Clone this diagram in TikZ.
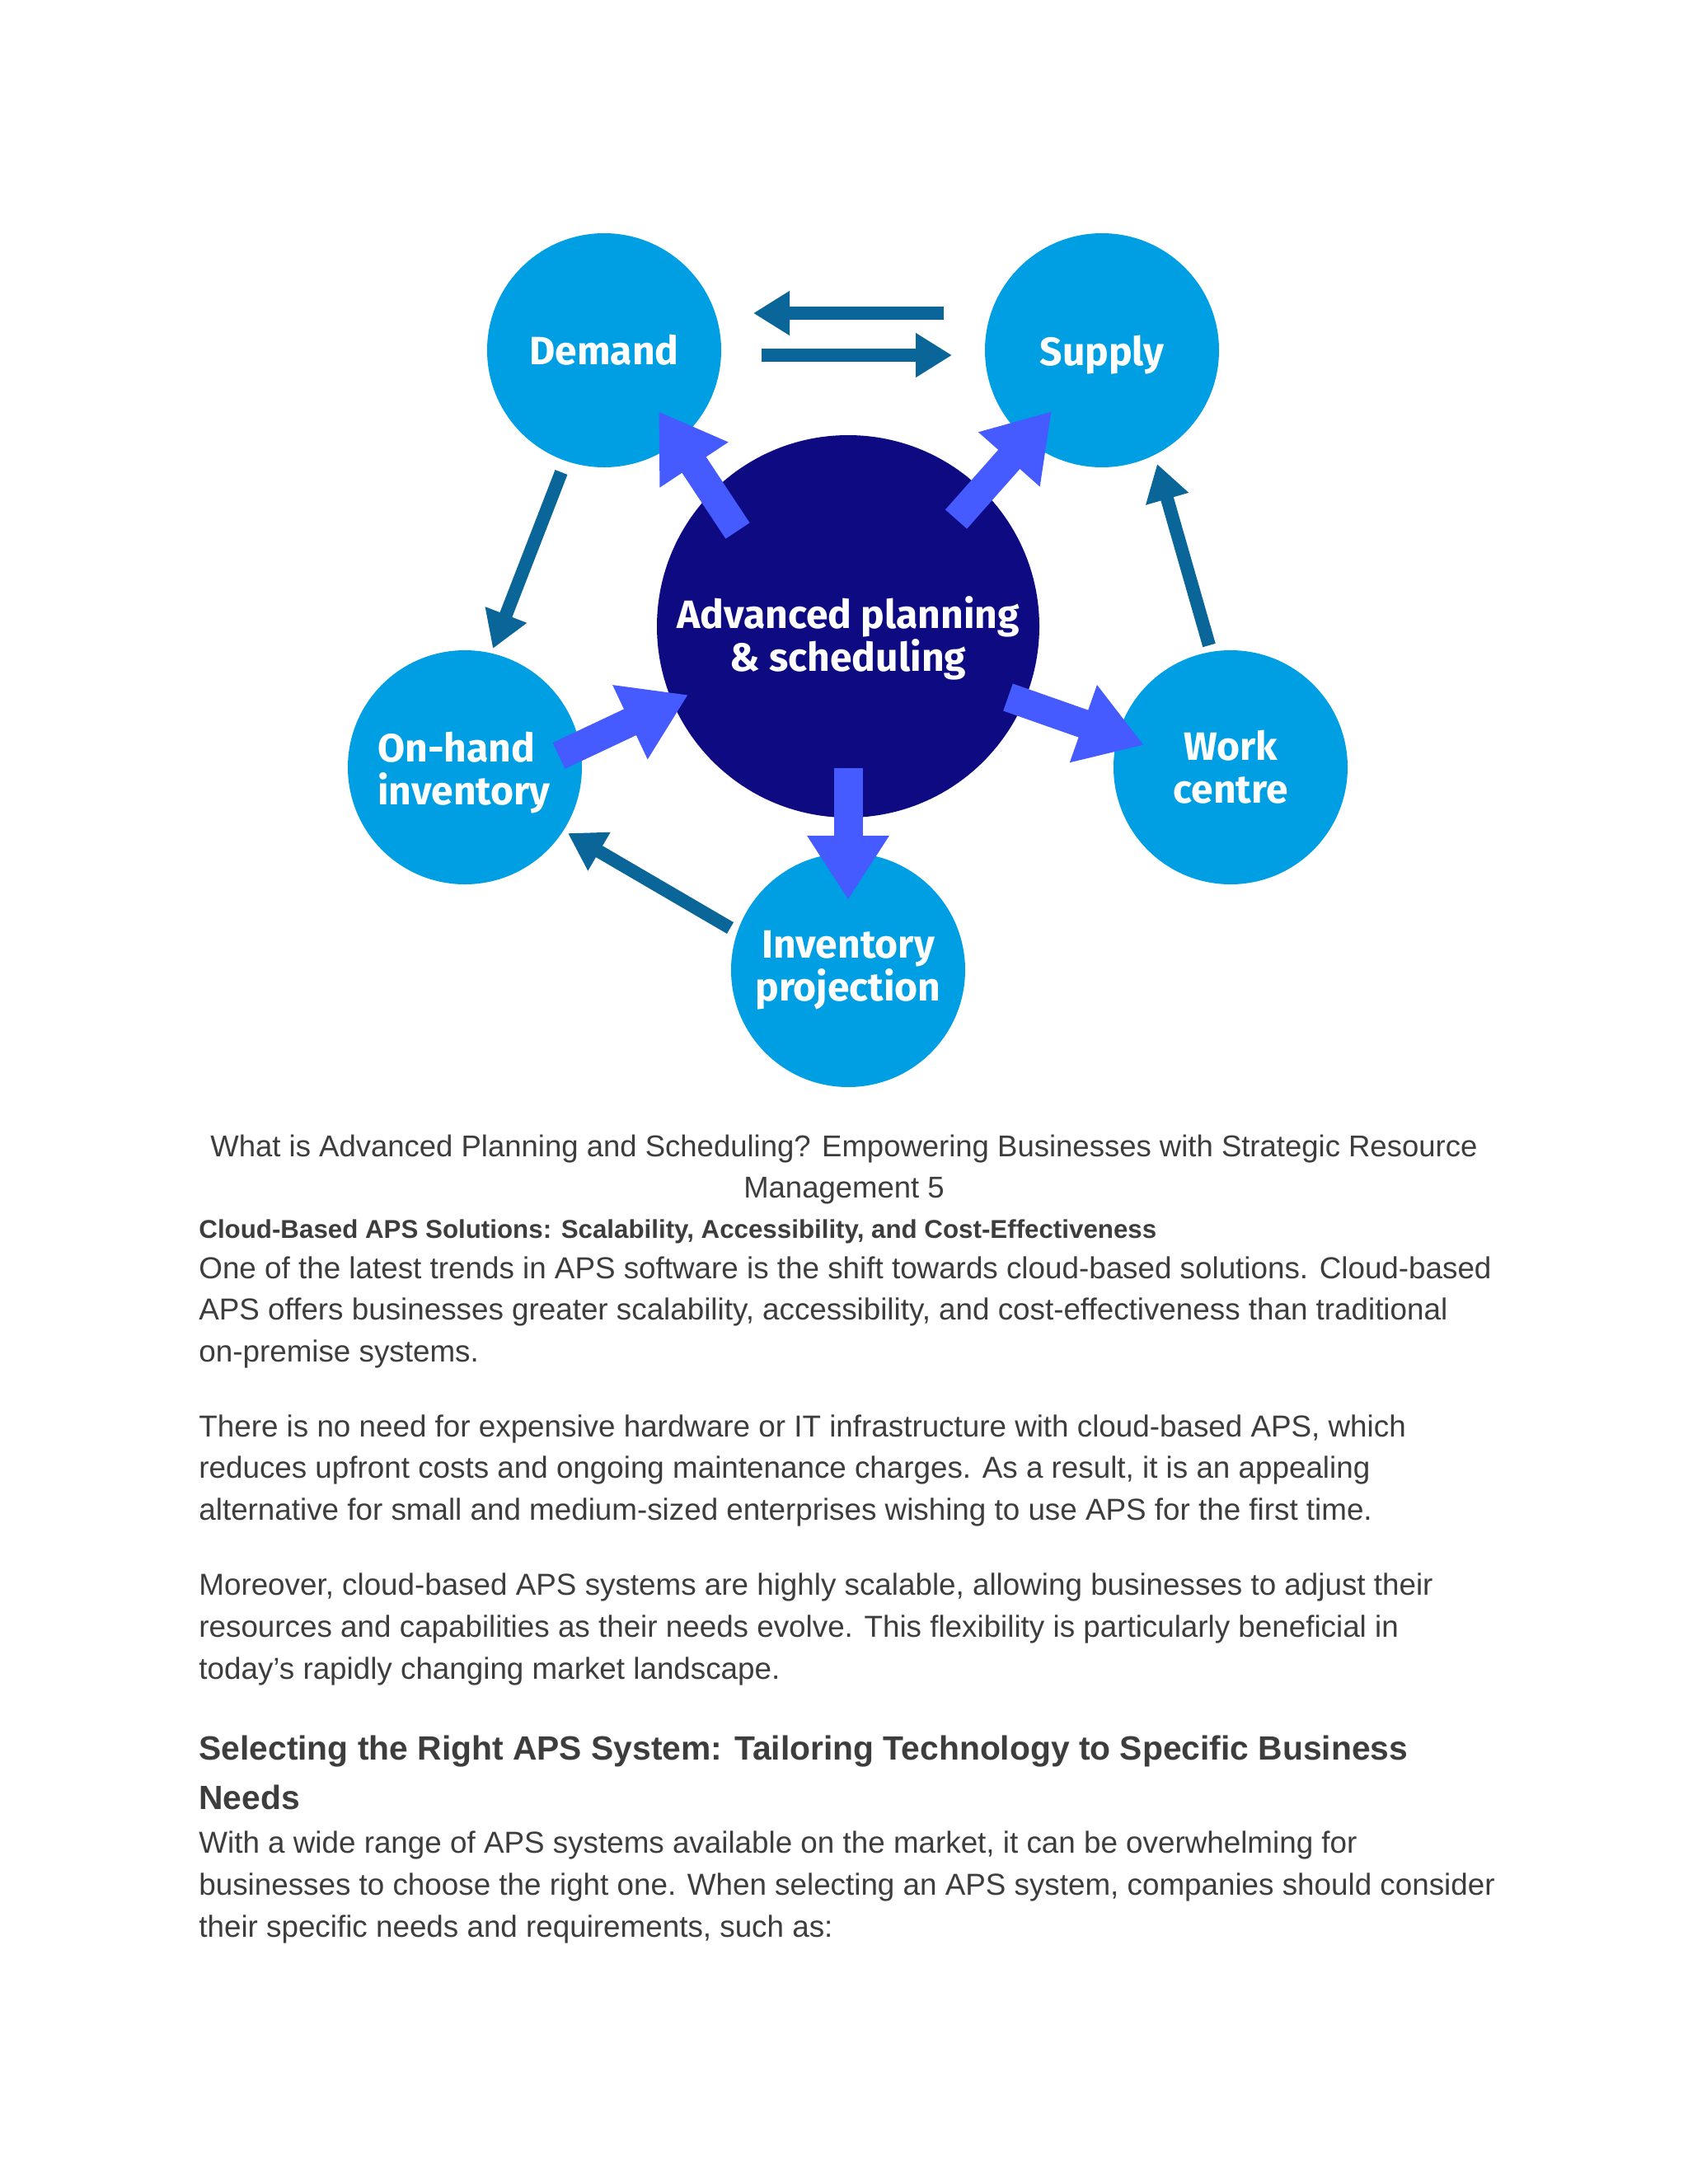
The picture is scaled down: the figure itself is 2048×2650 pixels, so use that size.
\documentclass[tikz,border=0pt]{standalone}
\usepackage{fontspec}
\setmainfont{Liberation Sans}
\newfontfamily\circfont{Fira Sans}
\usetikzlibrary{arrows.meta}
\definecolor{satblue}{RGB}{0,159,227}
\definecolor{coreblue}{RGB}{13,10,130}
\definecolor{brightarr}{RGB}{69,90,255}
\definecolor{darkarr}{RGB}{10,102,153}
\definecolor{txtgray}{RGB}{61,61,61}
\tikzset{
  sat/.style={circle, fill=satblue, draw=none, minimum size=142pt, inner sep=0pt,
    text=white, font=\circfont\bfseries\fontsize{24}{26}\selectfont, align=center},
  sattext/.style={inner sep=0pt, text=white, font=\circfont\bfseries\fontsize{24}{26}\selectfont, align=left},
  core/.style={circle, fill=coreblue, draw=none, minimum size=232pt, inner sep=0pt},
  coretext/.style={inner sep=0pt, text=white, font=\circfont\bfseries\fontsize{24}{26}\selectfont, align=center},
  bigarr/.style={draw=brightarr, line width=17.5pt, -{Triangle[length=39pt,width=47pt]}},
  smallarr/.style={draw=darkarr, line width=8pt, -{Triangle[length=22pt,width=25.5pt]}},
  bodytxt/.style={anchor=base west, inner sep=0pt, text=txtgray, font=\fontsize{18.4}{22}\selectfont},
  captxt/.style={anchor=base, inner sep=0pt, text=txtgray, font=\fontsize{18.25}{22}\selectfont},
  headA/.style={anchor=base west, inner sep=0pt, text=txtgray, font=\bfseries\fontsize{15.65}{18}\selectfont},
  headB/.style={anchor=base west, inner sep=0pt, text=txtgray, font=\bfseries\fontsize{20.4}{24}\selectfont},
}
\begin{document}
\begin{tikzpicture}[x=0.5pt,y=-0.5pt]
\useasboundingbox (0,0) rectangle (2048,2650);
\fill[white] (0,0) rectangle (2048,2650);

% circles
\node[core] (aps) at (1029,760) {};
\node[coretext] (apslabel) at ([shift={(0,14)}]aps.center) {Advanced planning\\\& scheduling};
\node[sat] (demand) at (733,425) {Demand};
\node[sat, text depth=0pt] (supply) at (1337,425) {Supply};
\node[sat] (onhand) at (564,931) {};
\node[sattext] (onhandlabel) at ([shift={(-1,7)}]onhand.center) {On-hand\\inventory};
\node[sat] (work) at (1493,931) {Work\\centre};
\node[sat] (invproj) at (1029,1177) {Inventory\\projection};

% bright block arrows from the core
\draw[bigarr] ([shift={(-134,-116)}]aps.center) -- ([shift={(66,74)}]demand.center);
\draw[bigarr] ([shift={(131,-130)}]aps.center) -- ([shift={(-61,74)}]supply.center);
\draw[bigarr] ([shift={(114,-14)}]onhand.center) -- ([shift={(-194,83)}]aps.center);
\draw[bigarr] ([shift={(194,86)}]aps.center) -- ([shift={(-105,-27)}]work.center);
\draw[bigarr] ([shift={(0,172)}]aps.center) -- ([shift={(0,-85)}]invproj.center);

% dark cycle arrows
\draw[smallarr] ([shift={(-192,-45)}]supply.center) -- ([shift={(181,-45)}]demand.center);
\draw[smallarr] ([shift={(191,6)}]demand.center) -- ([shift={(-182,6)}]supply.center);
\draw[smallarr] ([shift={(-52,148)}]demand.center) -- ([shift={(34,-144)}]onhand.center);
\draw[smallarr] ([shift={(-143,-51)}]invproj.center) -- ([shift={(125,80)}]onhand.center);
\draw[smallarr] ([shift={(-26,-148)}]work.center) -- ([shift={(67,138)}]supply.center);

% caption
\node[captxt] (cap1) at (1024,1403) {What is Advanced Planning and Scheduling? Empowering Businesses with Strategic Resource};
\node[captxt] (cap2) at (1024,1453) {Management 5};

\node[headA] (h1) at (241,1502) {Cloud-Based APS Solutions: Scalability, Accessibility, and Cost-Effectiveness};
\node[bodytxt] (p1a) at (241,1551) {One of the latest trends in APS software is the shift towards cloud-based solutions. Cloud-based};
\node[bodytxt] (p1b) at (241,1601) {APS offers businesses greater scalability, accessibility, and cost-effectiveness than traditional};
\node[bodytxt] (p1c) at (241,1652) {on-premise systems.};

\node[bodytxt] (p2a) at (241,1743) {There is no need for expensive hardware or IT infrastructure with cloud-based APS, which};
\node[bodytxt] (p2b) at (241,1793) {reduces upfront costs and ongoing maintenance charges. As a result, it is an appealing};
\node[bodytxt] (p2c) at (241,1844) {alternative for small and medium-sized enterprises wishing to use APS for the first time.};

\node[bodytxt] (p3a) at (241,1935) {Moreover, cloud-based APS systems are highly scalable, allowing businesses to adjust their};
\node[bodytxt] (p3b) at (241,1986) {resources and capabilities as their needs evolve. This flexibility is particularly beneficial in};
\node[bodytxt] (p3c) at (241,2037) {today’s rapidly changing market landscape.};

\node[headB] (h2a) at (241,2135) {Selecting the Right APS System: Tailoring Technology to Specific Business};
\node[headB] (h2b) at (241,2195) {Needs};

\node[bodytxt] (p4a) at (241,2248) {With a wide range of APS systems available on the market, it can be overwhelming for};
\node[bodytxt] (p4b) at (241,2299) {businesses to choose the right one. When selecting an APS system, companies should consider};
\node[bodytxt] (p4c) at (241,2350) {their specific needs and requirements, such as:};
\end{tikzpicture}
\end{document}
